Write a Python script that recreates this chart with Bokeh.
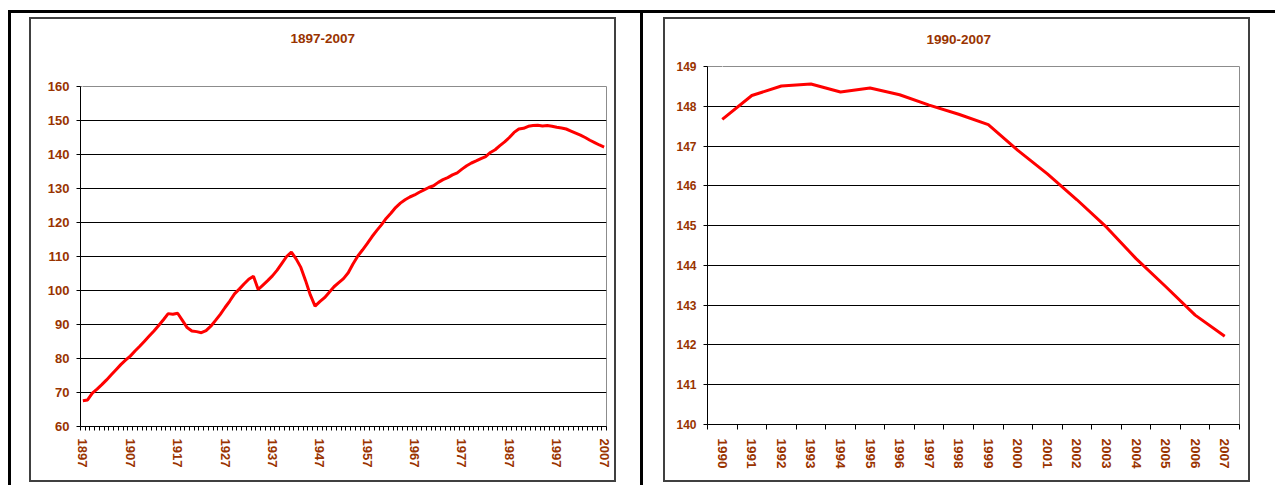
from bokeh.plotting import figure
from bokeh.models import Range1d, FixedTicker, Div, LinearAxis
from bokeh.layouts import row, column
from bokeh.embed import file_html
from bokeh.resources import INLINE

# ---------------- data ----------------
years_long = list(range(1897, 2008))
pop_long = [
    67.6, 67.8, 69.8, 71.0, 72.3, 73.7, 75.2, 76.7, 78.2, 79.5,      # 1897-1906
    80.7, 82.2, 83.6, 85.1, 86.6, 88.1, 89.7, 91.4, 93.2, 93.0,      # 1907-1916
    93.3, 91.2, 89.1, 88.1, 87.9, 87.6, 88.2, 89.5, 91.2, 93.0,      # 1917-1926
    95.0, 96.9, 99.0, 100.4, 101.9, 103.3, 104.2, 100.3, 101.6, 102.9,  # 1927-1936
    104.3, 106.0, 108.0, 110.0, 111.3, 109.3, 106.8, 102.9, 98.7, 95.4,  # 1937-1946
    96.7, 97.9, 99.5, 101.1, 102.3, 103.5, 105.2, 107.8, 110.1, 111.9,  # 1947-1956
    113.8, 115.8, 117.6, 119.3, 121.2, 122.7, 124.4, 125.7, 126.7, 127.5,  # 1957-1966
    128.1, 128.9, 129.6, 130.3, 130.8, 131.8, 132.6, 133.2, 134.0, 134.6,  # 1967-1976
    135.7, 136.7, 137.5, 138.1, 138.8, 139.4, 140.6, 141.4, 142.6, 143.7,  # 1977-1986
    145.0, 146.5, 147.5, 147.7, 148.3, 148.5, 148.6, 148.4, 148.5, 148.3,  # 1987-1996
    148.0, 147.8, 147.5, 146.9, 146.3, 145.7, 145.0, 144.2, 143.5, 142.8,  # 1997-2006
    142.2,                                                                # 2007
]
long_label_years = [1897, 1907, 1917, 1927, 1937, 1947, 1957, 1967, 1977, 1987, 1997, 2007]
long_tick_labels = ["1897", "1907", "1917", "1927", "1937", "1947", "1957", "1967",
                    "1977", "1987", "1997", "2007"]
long_y_ticks = [60, 70, 80, 90, 100, 110, 120, 130, 140, 150, 160]

years_recent = list(range(1990, 2008))
pop_recent = [147.67, 148.27, 148.51, 148.56, 148.36, 148.46, 148.29, 148.03, 147.80,
              147.54, 146.89, 146.30, 145.65, 144.96, 144.17, 143.47, 142.75, 142.22]
recent_tick_labels = ["1990", "1991", "1992", "1993", "1994", "1995", "1996", "1997", "1998",
                      "1999", "2000", "2001", "2002", "2003", "2004", "2005", "2006", "2007"]
recent_y_ticks = [140, 141, 142, 143, 144, 145, 146, 147, 148, 149]

title_long = "1897-2007"
title_recent = "1990-2007"

# ---------------- style ----------------
BROWN = "#993300"
FONT = "Liberation Sans"
FRAME_CSS = {"border": "2px solid #404040"}


def style_fig(p, title, yfs, xfs, title_offset, title_gap, spacer_at):
    xax = p.xaxis[0]
    yax = p.yaxis[0]
    p.title.text = title
    p.title.align = "left"
    p.title.offset = title_offset
    p.title.standoff = 0
    p.title.text_font = FONT
    p.title.text_font_size = "13.5px"
    p.title.text_font_style = "bold"
    p.title.text_color = BROWN
    p.background_fill_color = "white"
    p.border_fill_color = "white"
    p.outline_line_color = "#8c8c8c"
    p.outline_line_width = 1
    p.xgrid.visible = False
    p.ygrid.grid_line_color = "black"
    p.ygrid.grid_line_width = 1
    for ax in (xax, yax):
        ax.axis_line_color = "black"
        ax.axis_line_width = 1
        ax.major_label_text_font = FONT
        ax.major_label_text_font_style = "bold"
        ax.major_label_text_color = BROWN
        ax.major_tick_line_color = "black"
        ax.minor_tick_line_color = "black"
        ax.major_tick_in = 0
        ax.minor_tick_in = 0
    yax.major_label_text_font_size = yfs
    yax.major_tick_out = 4
    yax.minor_tick_out = 0
    yax.major_label_standoff = 7
    xax.major_label_text_font_size = xfs
    xax.major_label_orientation = "vertical"
    xax.major_tick_out = 0
    # blank spacer axis (white tick, empty label) keeps the title away from the plot area
    spacer = LinearAxis(ticker=FixedTicker(ticks=[spacer_at]), axis_line_color=None,
                        major_tick_out=title_gap, major_tick_in=0, minor_tick_out=0,
                        minor_tick_in=0, major_tick_line_color="white",
                        major_label_overrides={spacer_at: ""},
                        major_label_text_font_size="1px", major_label_standoff=0)
    p.add_layout(spacer, "above")
    return xax, yax


# ---------------- left chart ----------------
pl = figure(width=587, height=465, output_backend="svg", toolbar_location=None,
            x_range=Range1d(years_long[0] - 0.5, years_long[-1] + 0.5),
            y_range=Range1d(long_y_ticks[0], long_y_ticks[-1]),
            min_border_left=49, min_border_right=12, min_border_top=67, min_border_bottom=58,
            styles=FRAME_CSS, margin=(4, 0, 0, 18), frame_align=False)
pl.line(years_long, pop_long, line_color="#ff0000", line_width=3)
xl, yl = style_fig(pl, title_long, "13px", "13px", 210, 44, years_long[0])
yl.ticker = FixedTicker(ticks=long_y_ticks)
xl.ticker = FixedTicker(ticks=long_label_years,
                        minor_ticks=[y - 0.5 for y in years_long] + [years_long[-1] + 0.5])
xl.major_label_overrides = dict(zip(long_label_years, long_tick_labels))
xl.minor_tick_out = 4
xl.major_label_standoff = 8

# ---------------- right chart ----------------
pr = figure(width=587, height=465, output_backend="svg", toolbar_location=None,
            x_range=Range1d(years_recent[0] - 0.5, years_recent[-1] + 0.5),
            y_range=Range1d(recent_y_ticks[0], recent_y_ticks[-1]),
            min_border_left=42, min_border_right=13, min_border_top=47, min_border_bottom=60,
            styles=FRAME_CSS, margin=(4, 0, 0, 20), frame_align=False)
pr.line(years_recent, pop_recent, line_color="#ff0000", line_width=3)
xr, yr = style_fig(pr, title_recent, "12px", "13.5px", 219, 23, years_recent[0])
yr.ticker = FixedTicker(ticks=recent_y_ticks)
xr.ticker = FixedTicker(ticks=years_recent,
                        minor_ticks=[y - 0.5 for y in years_recent] + [years_recent[-1] + 0.5])
xr.major_label_overrides = dict(zip(years_recent, recent_tick_labels))
xr.minor_tick_out = 5
xr.major_label_standoff = 9

# ---------------- table lines ----------------
top_line = Div(text="", width=1267, height=3, margin=(10, 0, 0, 8),
               styles={"background-color": "black"})
left_line = Div(text="", width=3, height=472, margin=(0, 0, 0, 8),
                styles={"background-color": "black"})
mid_line = Div(text="", width=3, height=472, margin=(0, 0, 0, 24),
               styles={"background-color": "black"})

layout = column(top_line, row(left_line, pl, mid_line, pr), spacing=0)

open("out.html", "w").write(file_html(layout, INLINE))
